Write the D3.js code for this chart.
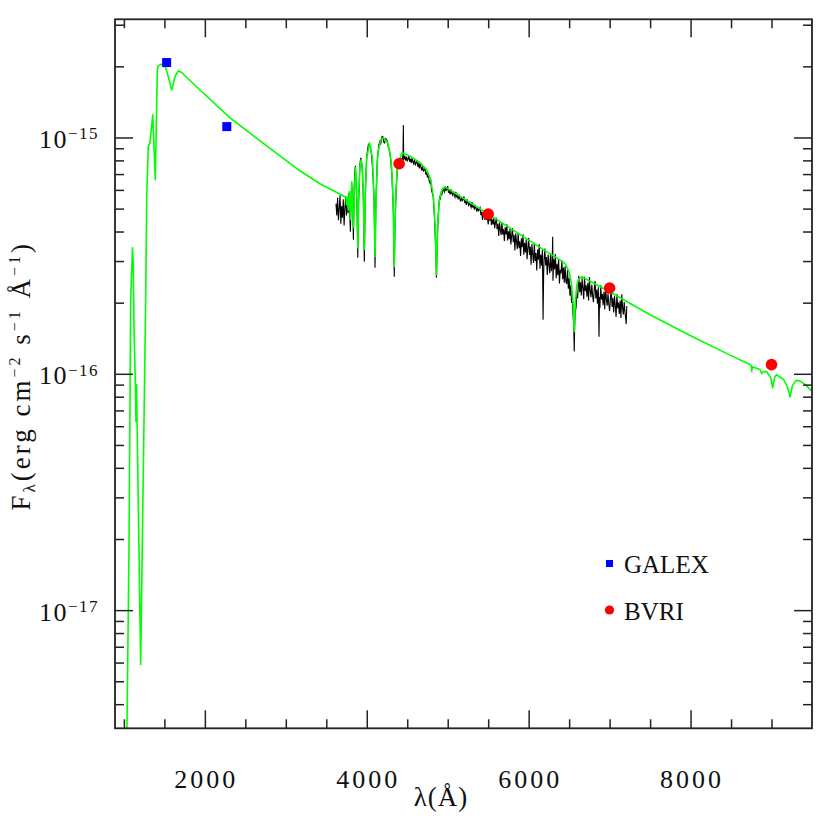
<!DOCTYPE html>
<html><head><meta charset="utf-8">
<script src="https://cdn.jsdelivr.net/npm/d3@7/dist/d3.min.js"></script>
<style>
body{margin:0;background:#fff}
text{font-family:"Liberation Serif","DejaVu Serif",serif;fill:#111}
</style>
</head><body>
<svg id="chart" width="830" height="830"></svg>
<script>
// ---------- axes / ticks ----------
const xDomain = [890, 9500];                 // wavelength (Å)
const yLogDomain = [-17.5, -14.5];           // log10 F_lambda
const xMajorTicks = [2000, 4000, 6000, 8000];
const xTickLabels = ["2000", "4000", "6000", "8000"];
const xMinorTicks = [1000, 1500, 2500, 3000, 3500, 4500, 5000, 5500, 6500, 7000, 7500, 8500, 9000];
const yMajorExponents = [-15, -16, -17];
const yTickBase = "10";
const yTickSup = ["\u221215", "\u221216", "\u221217"];
const yMinorMantissas = [2, 3, 4, 5, 6, 7, 8, 9];

// ---------- model spectrum (green): [wavelength Å, log10 F_lambda] ----------
const modelSpectrum = [
 [1025,-17.70],[1038,-17.497],[1062,-16.773],[1084,-15.686],[1106,-15.467],[1115,-15.530],[1125,-15.813],[1141,-16.033],[1149,-16.202],[1156,-16.046],[1207,-17.230],[1269,-15.686],[1282,-15.251],[1301,-15.038],[1322,-15.023],[1356,-14.904],[1388,-15.179],[1413,-14.714],[1425,-14.697],[1460,-14.690],[1508,-14.697],[1548,-14.742],[1590,-14.799],[1631,-14.742],[1672,-14.718],[1714,-14.725],[1940,-14.799],[2311,-14.917],[2764,-15.036],[3175,-15.141],[3422,-15.196],[3731,-15.251],
 [3745,-15.259],[3750,-15.285],[3757,-15.251],[3771,-15.306],[3783,-15.230],[3798,-15.348],[3815,-15.188],[3835,-15.382],[3847,-15.221],[3861,-15.128],[3876,-15.221],[3889,-15.467],[3902,-15.230],[3915,-15.128],[3929,-15.095],[3945,-15.128],[3958,-15.242],[3970,-15.475],[3982,-15.242],[3997,-15.095],[4034,-15.023],[4070,-15.086],[4088,-15.242],[4102,-15.505],[4116,-15.242],[4135,-15.073],[4170,-15.010],[4207,-15.001],[4260,-15.023],[4305,-15.107],[4325,-15.264],[4340,-15.547],[4355,-15.264],[4378,-15.116],[4435,-15.065],[4550,-15.082],[4658,-15.107],[4740,-15.137],[4790,-15.179],[4825,-15.255],[4847,-15.390],[4861,-15.581],[4875,-15.382],[4897,-15.264],[4930,-15.221],[4966,-15.209],
 [5400,-15.302],[5800,-15.390],[6200,-15.479],[6380,-15.517],[6450,-15.534],[6500,-15.568],[6530,-15.623],[6550,-15.708],[6563,-15.822],[6575,-15.708],[6595,-15.623],[6620,-15.598],[6660,-15.589],[6700,-15.598],[7000,-15.653],[7500,-15.750],[8000,-15.839],[8500,-15.923],[8734,-15.961],[8748,-15.966],[8755,-15.991],[8762,-15.970],[8858,-15.982],[8878,-15.999],[8895,-15.991],[8940,-15.991],[8990,-16.016],[9014,-16.059],[9040,-16.012],[9064,-16.004],[9150,-16.025],[9200,-16.059],[9229,-16.097],[9258,-16.050],[9300,-16.029],[9343,-16.029],[9420,-16.046],[9500,-16.075]
];

// ---------- observed spectrum (black): [wavelength Å, log10 F_lambda] ----------
const observedSpectrum = [
 [3620,-15.280],[3630,-15.330],[3640,-15.255],[3650,-15.350],[3660,-15.300],[3670,-15.245],[3680,-15.365],[3690,-15.290],[3700,-15.340],[3710,-15.262],[3720,-15.372],[3730,-15.300],[3740,-15.250],[3750,-15.330],[3760,-15.265],[3770,-15.320],[3780,-15.235],
 [3798,-15.399],[3808,-15.235],[3815,-15.200],[3825,-15.260],[3835,-15.433],[3845,-15.210],[3850,-15.158],[3860,-15.120],[3870,-15.221],[3880,-15.300],[3889,-15.509],[3897,-15.290],[3905,-15.221],[3915,-15.115],[3925,-15.086],[3935,-15.100],[3945,-15.137],[3958,-15.260],[3970,-15.526],[3980,-15.270],[3990,-15.158],[4000,-15.080],[4010,-15.052],[4020,-15.030],[4034,-15.035],[4045,-15.040],[4060,-15.073],[4080,-15.179],[4092,-15.290],[4102,-15.551],[4112,-15.280],[4120,-15.200],[4130,-15.100],[4140,-15.061],[4150,-15.030],[4160,-15.018],[4170,-15.030],[4180,-15.010],[4190,-14.995],[4200,-14.997],[4210,-15.020],[4220,-15.023],[4235,-15.005],[4250,-15.014],[4265,-15.040],[4280,-15.052],[4295,-15.090],[4310,-15.158],[4322,-15.250],[4330,-15.327],[4340,-15.589],[4346,-15.420],[4352,-15.348],[4362,-15.230],[4370,-15.179],
 [4380,-15.120],[4390,-15.130],[4400,-15.100],[4410,-15.118],[4420,-15.085],[4430,-15.095],[4440,-15.090],[4448,-15.072],[4452,-14.947],[4456,-15.095],[4470,-15.078],[4480,-15.098],[4490,-15.081],[4500,-15.099],[4510,-15.092],[4520,-15.076],[4530,-15.103],[4540,-15.090],[4550,-15.108],[4560,-15.086],[4570,-15.104],[4580,-15.112],[4590,-15.093],[4600,-15.115],[4610,-15.108],[4620,-15.096],[4630,-15.124],[4640,-15.109],[4650,-15.131],[4660,-15.106],[4670,-15.127],[4680,-15.140],[4690,-15.120],[4700,-15.142],[4710,-15.138],[4720,-15.128],[4730,-15.158],[4740,-15.147],[4750,-15.170],[4760,-15.150],[4770,-15.184],[4780,-15.192],[4790,-15.178],[4800,-15.225],[4810,-15.235],[4820,-15.250],[4830,-15.300],[4840,-15.360],[4850,-15.460],[4861,-15.593],[4870,-15.450],[4880,-15.350],[4890,-15.290],
 [4900,-15.252],[4910,-15.259],[4920,-15.232],[4930,-15.239],[4940,-15.213],[4950,-15.223],[4960,-15.230],[4970,-15.208],[4980,-15.224],[4990,-15.220],[5000,-15.206],[5010,-15.234],[5020,-15.225],[5030,-15.242],[5040,-15.219],[5050,-15.235],[5060,-15.244],[5070,-15.228],[5080,-15.244],[5090,-15.253],
 [5100,-15.230],[5110,-15.254],[5120,-15.244],[5130,-15.262],[5140,-15.242],[5150,-15.259],[5160,-15.271],[5170,-15.251],[5180,-15.267],[5190,-15.263],[5200,-15.249],[5210,-15.277],[5220,-15.268],[5230,-15.285],[5240,-15.262],[5250,-15.278],[5260,-15.287],[5270,-15.271],[5280,-15.287],[5290,-15.296],
 [5300,-15.273],[5310,-15.297],[5320,-15.287],[5330,-15.305],[5340,-15.285],[5350,-15.301],[5360,-15.314],[5370,-15.294],[5380,-15.310],[5390,-15.306],
 [5400,-15.298],[5410,-15.329],[5420,-15.315],[5430,-15.349],[5440,-15.314],[5450,-15.333],[5460,-15.349],[5470,-15.316],[5480,-15.349],[5490,-15.336],[5500,-15.368],[5510,-15.332],[5520,-15.352],[5530,-15.326],[5540,-15.370],[5550,-15.346],[5560,-15.368],[5570,-15.341],[5580,-15.384],[5590,-15.361],
 [5600,-15.340],[5610,-15.388],[5620,-15.365],[5630,-15.417],[5640,-15.360],[5650,-15.389],[5660,-15.413],[5670,-15.359],[5680,-15.410],[5690,-15.388],[5700,-15.438],[5710,-15.380],[5720,-15.410],[5730,-15.367],[5740,-15.436],[5750,-15.397],[5760,-15.430],[5770,-15.386],[5780,-15.453],[5790,-15.415],
 [5800,-15.383],[5810,-15.443],[5820,-15.413],[5830,-15.478],[5840,-15.406],[5850,-15.442],[5860,-15.472],[5870,-15.403],[5880,-15.467],[5890,-15.439],[5900,-15.501],[5910,-15.427],[5920,-15.464],[5930,-15.410],[5940,-15.496],[5950,-15.446],[5960,-15.487],[5970,-15.431],[5980,-15.515],[5990,-15.467],
 [6000,-15.425],[6010,-15.497],[6020,-15.462],[6030,-15.538],[6040,-15.451],[6050,-15.494],[6060,-15.531],[6070,-15.446],[6080,-15.523],[6090,-15.489],[6100,-15.563],[6110,-15.474],[6120,-15.517],[6130,-15.452],[6140,-15.555],[6150,-15.495],[6160,-15.543],[6170,-15.475],[6178,-15.771],[6185,-15.576],[6190,-15.518],
 [6200,-15.470],[6210,-15.542],[6220,-15.506],[6230,-15.582],[6240,-15.495],[6250,-15.538],[6260,-15.574],[6270,-15.489],[6280,-15.566],[6290,-15.532],[6297,-15.420],[6300,-15.606],[6310,-15.515],[6320,-15.558],[6330,-15.493],[6340,-15.596],[6350,-15.535],[6360,-15.583],[6370,-15.515],[6380,-15.618],[6390,-15.560],
 [6400,-15.575],[6410,-15.520],[6420,-15.600],[6430,-15.550],[6440,-15.615],[6450,-15.545],[6460,-15.610],[6470,-15.620],[6480,-15.560],[6490,-15.640],[6500,-15.595],[6510,-15.670],[6520,-15.625],[6530,-15.700],[6540,-15.690],[6550,-15.760],[6557,-15.800],[6563,-15.906],[6568,-15.800],[6575,-15.740],[6585,-15.720],[6595,-15.660],[6605,-15.680],[6615,-15.610],
 [6620,-15.585],[6630,-15.655],[6640,-15.613],[6650,-15.669],[6660,-15.596],[6670,-15.637],[6680,-15.684],[6690,-15.589],[6700,-15.650],[6710,-15.626],[6720,-15.674],[6730,-15.616],[6740,-15.690],[6750,-15.591],[6760,-15.648],[6770,-15.676],[6780,-15.623],[6790,-15.669],[6800,-15.697],[6810,-15.641],
 [6820,-15.607],[6830,-15.681],[6840,-15.644],[6850,-15.703],[6860,-15.634],[6869,-15.843],[6875,-15.675],[6880,-15.721],[6890,-15.625],[6900,-15.686],[6910,-15.662],[6920,-15.710],[6930,-15.653],[6940,-15.727],[6950,-15.627],[6960,-15.684],[6970,-15.712],[6980,-15.659],[6990,-15.706],[7000,-15.734],
 [7010,-15.678],[7020,-15.644],[7030,-15.717],[7040,-15.680],[7050,-15.740],[7060,-15.671],[7070,-15.712],[7080,-15.759],[7090,-15.662],[7100,-15.723],[7110,-15.699],[7120,-15.747],[7130,-15.690],[7140,-15.764],[7150,-15.664],[7160,-15.721],[7170,-15.749],[7180,-15.696],[7190,-15.741],[7200,-15.771],[7205,-15.790],[7212,-15.713]
];

// ---------- photometry ----------
const galexWave = [1528, 2271];
const galexLogF = [-14.683, -14.954];
const bvriWave = [4400, 5500, 7000, 9000];
const bvriLogF = [-15.111, -15.324, -15.637, -15.961];
const legendLabels = ["GALEX", "BVRI"];
const xLabel = "\u03bb(\u00c5)";

// ---------- drawing ----------
const svg = d3.select("#chart");
const L = 115, R = 812, T = 19.3, B = 728.3;
const x = d3.scaleLinear().domain(xDomain).range([L, R]);
const y = d3.scaleLog().domain(yLogDomain.map(v => Math.pow(10, v))).range([B, T]);

svg.append("defs").append("clipPath").attr("id", "plotclip")
  .append("rect").attr("x", L).attr("y", T).attr("width", R - L).attr("height", B - T);

const toFlux = d => [d[0], Math.pow(10, d[1])];
const model = modelSpectrum.map(toFlux);
const obs = observedSpectrum.map(toFlux);
const line = d3.line().x(d => x(d[0])).y(d => y(d[1]));

const plot = svg.append("g").attr("clip-path", "url(#plotclip)");
plot.append("path").datum(obs).attr("d", line)
  .attr("fill", "none").attr("stroke", "#000").attr("stroke-width", 1.1).attr("stroke-linejoin", "miter");
plot.append("path").datum(model).attr("d", line)
  .attr("fill", "none").attr("stroke", "#00ff00").attr("stroke-width", 1.6).attr("stroke-linejoin", "round");

// GALEX squares
const sq = 9;
plot.selectAll("rect.galex").data(galexWave.map((w, i) => [w, Math.pow(10, galexLogF[i])]))
  .join("rect").attr("class", "galex")
  .attr("x", d => x(d[0]) - sq / 2).attr("y", d => y(d[1]) - sq / 2)
  .attr("width", sq).attr("height", sq).attr("fill", "#0000ff");
// BVRI circles
plot.selectAll("circle.bvri").data(bvriWave.map((w, i) => [w, Math.pow(10, bvriLogF[i])]))
  .join("circle").attr("class", "bvri")
  .attr("cx", d => x(d[0])).attr("cy", d => y(d[1])).attr("r", 5.8).attr("fill", "#ff0000");

// ticks via d3 axes (inward)
const axisColor = "#222";
function styleAxis(g) {
  g.select(".domain").remove();
  g.selectAll(".tick line").attr("stroke", axisColor).attr("stroke-width", 1.5);
  g.selectAll(".tick text").remove();
}
const yMinor = [];
for (let e = -18; e <= -15; e++) for (const m of yMinorMantissas) {
  const v = m * Math.pow(10, e);
  if (Math.log10(v) > yLogDomain[0] && Math.log10(v) < yLogDomain[1]) yMinor.push(v);
}
const yMajor = yMajorExponents.map(e => Math.pow(10, e));

svg.append("g").attr("transform", `translate(0,${B})`).call(d3.axisBottom(x).tickValues(xMajorTicks).tickSize(-18)).call(styleAxis);
svg.append("g").attr("transform", `translate(0,${B})`).call(d3.axisBottom(x).tickValues(xMinorTicks).tickSize(-9)).call(styleAxis);
svg.append("g").attr("transform", `translate(0,${T})`).call(d3.axisTop(x).tickValues(xMajorTicks).tickSize(-18)).call(styleAxis);
svg.append("g").attr("transform", `translate(0,${T})`).call(d3.axisTop(x).tickValues(xMinorTicks).tickSize(-9)).call(styleAxis);
svg.append("g").attr("transform", `translate(${L},0)`).call(d3.axisLeft(y).tickValues(yMajor).tickSize(-18)).call(styleAxis);
svg.append("g").attr("transform", `translate(${L},0)`).call(d3.axisLeft(y).tickValues(yMinor).tickSize(-9)).call(styleAxis);
svg.append("g").attr("transform", `translate(${R},0)`).call(d3.axisRight(y).tickValues(yMajor).tickSize(-18)).call(styleAxis);
svg.append("g").attr("transform", `translate(${R},0)`).call(d3.axisRight(y).tickValues(yMinor).tickSize(-9)).call(styleAxis);

// frame
svg.append("rect").attr("x", L).attr("y", T).attr("width", R - L).attr("height", B - T)
  .attr("fill", "none").attr("stroke", axisColor).attr("stroke-width", 1.8);

// x tick labels
svg.selectAll("text.xt").data(xMajorTicks).join("text").attr("class", "xt")
  .attr("x", d => x(d) + 1.5).attr("y", 788).attr("text-anchor", "middle")
  .attr("font-size", 26).attr("letter-spacing", 3).text((d, i) => xTickLabels[i]);

// y tick labels  10^{-15}
yMajorExponents.forEach((e, i) => {
  const t = svg.append("text").attr("x", 99).attr("y", y(Math.pow(10, e)) + 10.5)
    .attr("text-anchor", "end").attr("font-size", 26);
  t.append("tspan").attr("letter-spacing", 1.5).text(yTickBase);
  t.append("tspan").attr("font-size", 17).attr("letter-spacing", 1.5).attr("dy", -8.5).text(yTickSup[i]);
});

// axis labels
svg.append("text").attr("x", 441).attr("y", 806).attr("text-anchor", "middle")
  .attr("font-size", 27).attr("letter-spacing", 1).text(xLabel);

const yl = svg.append("text").attr("transform", `translate(30,${(T + B) / 2 + 2}) rotate(-90)`)
  .attr("text-anchor", "middle").attr("font-size", 27).attr("letter-spacing", 3);
yl.append("tspan").text("F");
yl.append("tspan").attr("font-size", 17).attr("dy", 5).text("\u03bb");
yl.append("tspan").attr("dy", -5).text("(erg cm");
yl.append("tspan").attr("font-size", 16).attr("dy", -10).text("\u22122");
yl.append("tspan").attr("dy", 10).text(" s");
yl.append("tspan").attr("font-size", 16).attr("dy", -10).text("\u22121");
yl.append("tspan").attr("dy", 10).text(" \u00c5");
yl.append("tspan").attr("font-size", 16).attr("dy", -10).text("\u22121");
yl.append("tspan").attr("dy", 10).text(")");

// legend
const leg = svg.append("g");
leg.append("rect").attr("x", 606).attr("y", 560).attr("width", 7).attr("height", 7).attr("fill", "#0000ff");
leg.append("text").attr("x", 624).attr("y", 573).attr("font-size", 25).text(legendLabels[0]);
leg.append("circle").attr("cx", 609.5).attr("cy", 610).attr("r", 4.6).attr("fill", "#ff0000");
leg.append("text").attr("x", 624).attr("y", 620).attr("font-size", 25).text(legendLabels[1]);
</script>
</body></html>
